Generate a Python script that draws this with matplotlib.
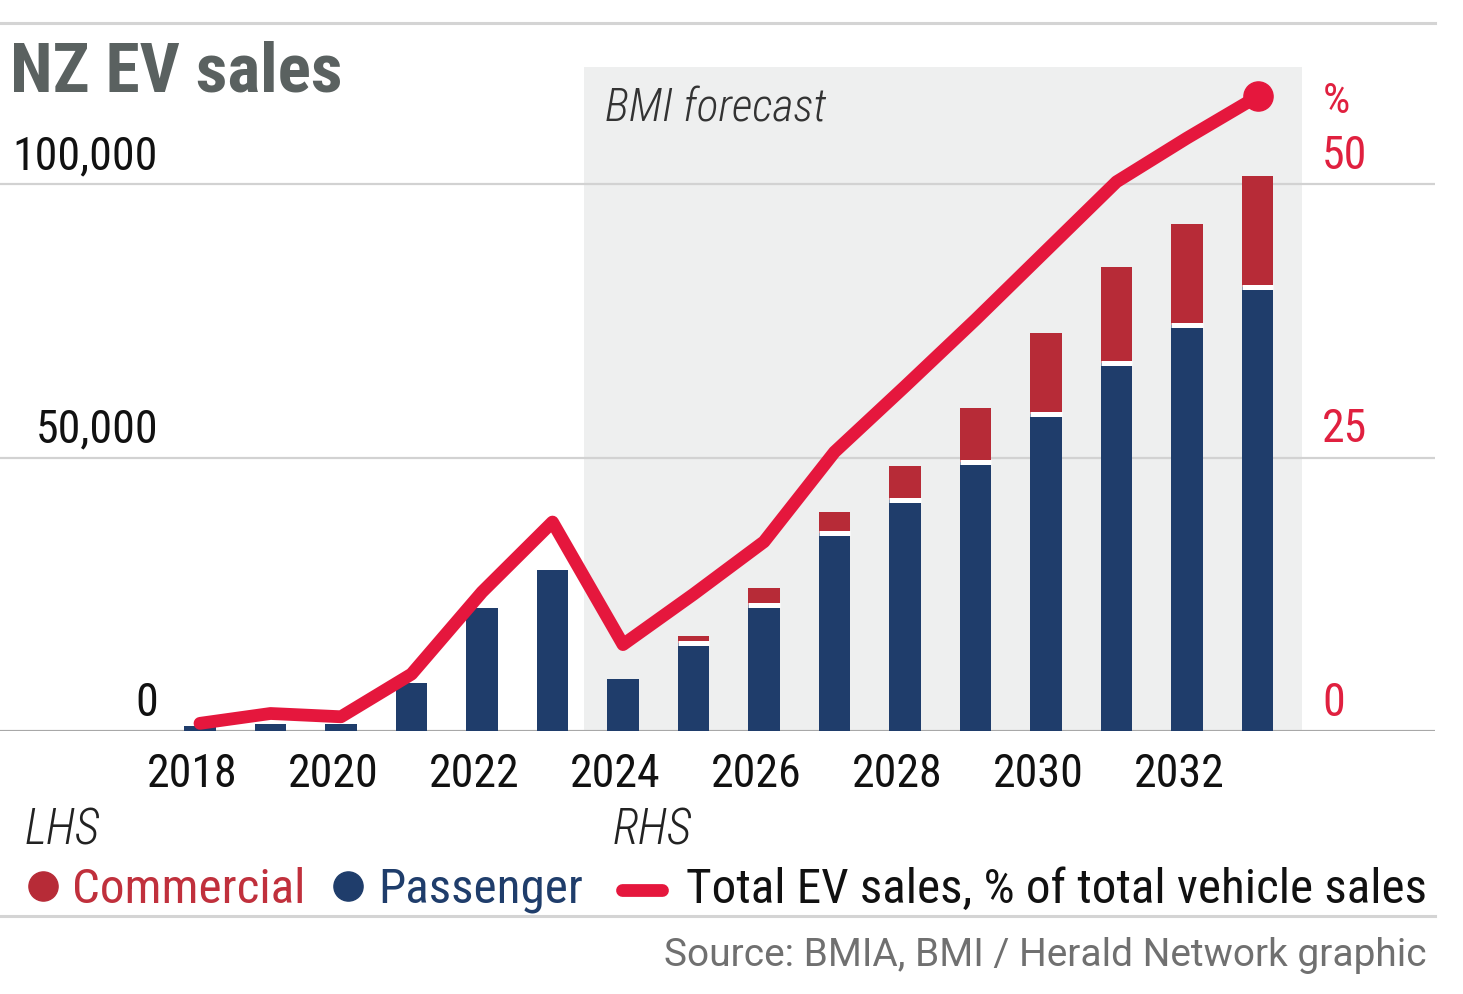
import matplotlib
matplotlib.use("Agg")
import matplotlib.pyplot as plt
from matplotlib import font_manager as fm
from matplotlib import transforms as mtrans
from matplotlib.lines import Line2D

# ---------------- data ----------------
years = list(range(2018, 2034))
passenger = [1000, 1200, 1300, 8800, 22500, 29400, 9500, 16000, 23100,
             36200, 42200, 49100, 57900, 67200, 74200, 81200]
commercial = [0, 0, 0, 0, 0, 0, 0, 1300, 3000, 3800, 6200, 9900, 14900,
              17600, 18500, 20300]
ev_share = [0.7, 1.6, 1.3, 5.2, 12.7, 19.1, 7.9, 12.5, 17.3, 25.5, 31.5,
            37.6, 43.9, 50.2, 54.2, 58.0]
xtick_years = [2018, 2020, 2022, 2024, 2026, 2028, 2030, 2032]
left_ticks = [0, 50000, 100000]
left_labels = ["0", "50,000", "100,000"]
right_ticks = [0, 25, 50]
right_labels = ["0", "25", "50"]
forecast_span = (2023.45, 2033.63)

# ---------------- style ----------------
NAVY = "#1f3d6b"
BAR_RED = "#b72b37"
LINE_RED = "#e5173d"
LABEL_RED = "#e0203f"
SHADE = "#eeefef"
GRID = "#d2d2d2"
BASE = "#a8a8a8"
TITLE_GREY = "#5a6160"

names = {f.name for f in fm.fontManager.ttflist}
COND = "Roboto Condensed" in names
MAIN = "Roboto Condensed" if COND else "Roboto"
FAM = [MAIN, "DejaVu Sans"]
plt.rcParams["font.family"] = FAM

W, H = 1463, 995
fig = plt.figure(figsize=(W / 100, H / 100), dpi=100)
fig.patch.set_facecolor("white")


def fx(x):
    return x / W


def fy(y):
    return 1 - y / H


AX_TOP, AX_BOT, AX_RIGHT = 68, 732, 1435
PX_PER_YEAR = 70.5
X2018 = 200
ax = fig.add_axes([0, fy(AX_BOT), fx(AX_RIGHT), (AX_BOT - AX_TOP) / H])
ax.set_xlim(2018 - X2018 / PX_PER_YEAR, 2018 + (AX_RIGHT - X2018) / PX_PER_YEAR)
PX_PER_UNIT = 5.47 / 1000.0
ymax = (AX_BOT - AX_TOP) / PX_PER_UNIT
ax.set_ylim(0, ymax)
for s in ax.spines.values():
    s.set_visible(False)
ax.set_yticks(left_ticks)
ax.set_xticks([])
ax.tick_params(length=0, labelleft=False, labelbottom=False)
ax.grid(axis="y", color=GRID, lw=1.6, zorder=1)
ax.set_axisbelow(True)
ax.axvspan(*forecast_span, color=SHADE, zorder=0, lw=0)
ax.axhline(0, color=BASE, lw=2.2, zorder=2)

bw = 0.44
ax.bar(years, passenger, width=bw, color=NAVY, zorder=3, lw=0)
ax.bar(years, commercial, width=bw, bottom=passenger, color=BAR_RED,
       zorder=3, lw=0)
for yr, p, c in zip(years, passenger, commercial):
    if c > 0:
        ax.hlines(p, yr - bw / 2, yr + bw / 2, color="white", lw=3.6, zorder=4)

ax2 = ax.twinx()
ax2.set_ylim(0, ymax / 2000.0)
ax2.set_yticks([])
for s in ax2.spines.values():
    s.set_visible(False)
ax2.plot(years, ev_share, color=LINE_RED, lw=9.2, solid_capstyle="round",
         solid_joinstyle="round", zorder=5)
ax2.plot(years[-1], ev_share[-1], "o", ms=21, color=LINE_RED, zorder=6)

# axis labels
tsize = 33 if COND else 29
bl = mtrans.blended_transform_factory(fig.transFigure, ax.transData)
for v, lab in zip(left_ticks, left_labels):
    ax.text(fx(158), v, lab, ha="right", va="baseline", fontsize=tsize,
            color="#111111",
            transform=mtrans.offset_copy(bl, fig=fig, y=16, units="dots"))
bl2 = mtrans.blended_transform_factory(fig.transFigure, ax2.transData)
for v, lab in zip(right_ticks, right_labels):
    ax2.text(fx(1322), v, lab, ha="left", va="baseline", fontsize=tsize,
             color=LABEL_RED,
             transform=mtrans.offset_copy(bl2, fig=fig, y=16, units="dots"))
fig.text(fx(1323), fy(113), "%", ha="left", va="baseline", fontsize=tsize - 2,
         color=LABEL_RED)

bx = mtrans.blended_transform_factory(ax.transData, ax.transAxes)
for yr in xtick_years:
    ax.text(yr, 0, str(yr), ha="center", va="baseline", fontsize=tsize,
            color="#111111",
            transform=mtrans.offset_copy(bx, fig=fig, x=-8, y=-(787 - AX_BOT),
                                         units="dots"))

# title & annotations
fig.text(fx(10), fy(92), "NZ EV sales", fontsize=50 if COND else 46,
         fontweight="bold", color=TITLE_GREY, ha="left", va="baseline")
fig.text(fx(605), fy(122), "BMI forecast", fontsize=33, style="italic",
         fontweight="light", color="#333333", ha="left", va="baseline")
fig.text(fx(25), fy(845), "LHS", fontsize=35, style="italic",
         fontweight="light", color="#222222", ha="left", va="baseline")
fig.text(fx(613), fy(845), "RHS", fontsize=35, style="italic",
         fontweight="light", color="#222222", ha="left", va="baseline")

# legend
lsize = 35.4 if COND else 32
fig.add_artist(Line2D([fx(43)], [fy(887)], marker="o", ms=21, color=BAR_RED,
                      lw=0))
fig.text(fx(72), fy(903), "Commercial", fontsize=lsize, color="#c0303c",
         ha="left", va="baseline")
fig.add_artist(Line2D([fx(348)], [fy(887)], marker="o", ms=21, color=NAVY,
                      lw=0))
fig.text(fx(378), fy(903), "Passenger", fontsize=lsize, color=NAVY,
         ha="left", va="baseline")
fig.add_artist(Line2D([fx(622), fx(662)], [fy(891), fy(891)], color=LINE_RED,
                      lw=9.2, solid_capstyle="round"))
fig.text(fx(686), fy(903), "Total EV sales, % of total vehicle sales",
         fontsize=lsize, color="#111111", ha="left", va="baseline")

fig.text(fx(1427), fy(966), "Source: BMIA, BMI / Herald Network graphic",
         fontsize=28, family=["Roboto", "DejaVu Sans"],
         color="#707070", ha="right", va="baseline")

# separators
for yy in (24, 917):
    fig.add_artist(Line2D([0, fx(AX_RIGHT)], [fy(yy), fy(yy)], color="#d4d4d4",
                          lw=2.2))

fig.savefig("out.png", dpi=100, facecolor="white")
